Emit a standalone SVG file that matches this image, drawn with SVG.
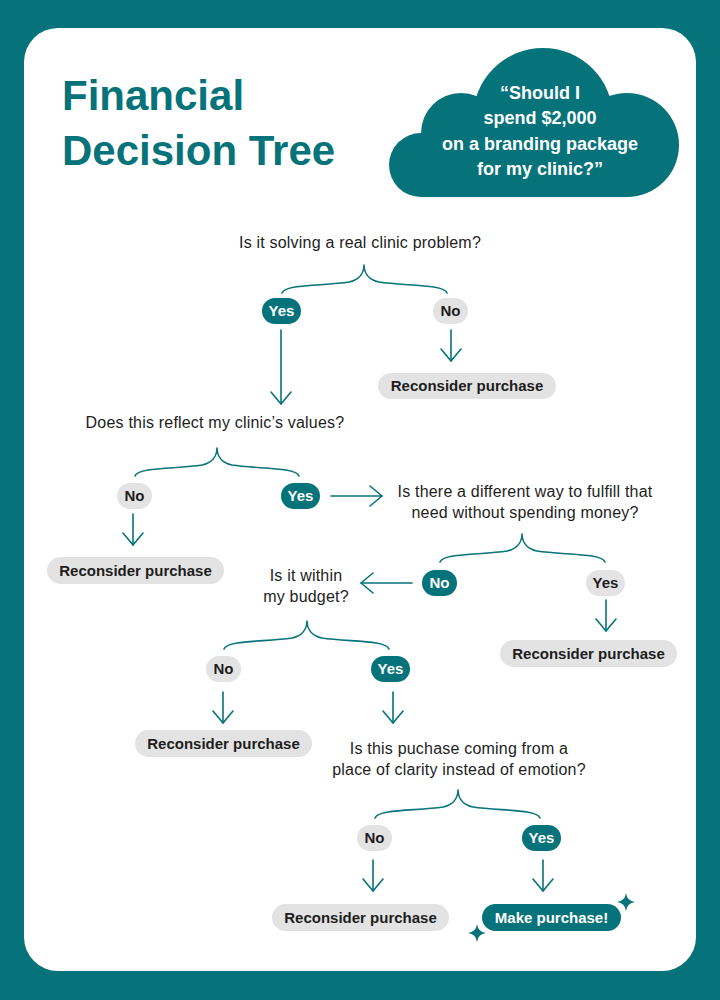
<svg xmlns="http://www.w3.org/2000/svg" width="720" height="1000" viewBox="0 0 720 1000">
<style>
.teal{fill:#06737a}
.grey{fill:#e3e3e3}
.q{font-family:"Liberation Sans",Arial,sans-serif;font-size:16px;fill:#1d1d1d;text-anchor:middle;letter-spacing:0.2px}
.pt{font-family:"Liberation Sans",Arial,sans-serif;font-size:15px;font-weight:700;text-anchor:middle}
.dk{fill:#1d1d1d}
.wt{fill:#ffffff}
.ln{fill:none;stroke:#06737a;stroke-width:1.6;stroke-linecap:round;stroke-linejoin:round}
.title{font-family:"Liberation Sans",Arial,sans-serif;font-size:42px;font-weight:700;fill:#06737a}
.cl{font-family:"Liberation Sans",Arial,sans-serif;font-size:18px;font-weight:700;fill:#ffffff;text-anchor:middle}
</style>
<defs>
<marker id="chev" viewBox="0 0 14 22" refX="13" refY="11" markerWidth="14" markerHeight="22" markerUnits="userSpaceOnUse" orient="auto">
<path d="M1,1 L13,11 L1,21" fill="none" stroke="#06737a" stroke-width="1.6" stroke-linecap="round" stroke-linejoin="round"/>
</marker>
</defs>
<rect width="720" height="1000" class="teal"/>
<rect x="24" y="28" width="672" height="943" rx="34" fill="#ffffff"/>

<g id="title">
<text class="title" x="62" y="110">Financial</text>
<text class="title" x="62" y="165">Decision Tree</text>
</g>

<g id="cloud">
<g class="teal">
<circle cx="421" cy="165" r="32"/>
<circle cx="461" cy="133" r="40"/>
<circle cx="543" cy="118" r="70"/>
<circle cx="627" cy="145" r="52"/>
<rect x="421" y="150" width="206" height="47"/>
</g>
<text class="cl" x="540" y="99">“Should I</text>
<text class="cl" x="540" y="124">spend $2,000</text>
<text class="cl" x="540" y="150">on a branding package</text>
<text class="cl" x="540" y="175">for my clinic?”</text>
</g>

<g id="connectors">
<path class="ln" d="M282 293 C285 284 324 286 349 282 C358 280 364 274 364 265 C364 274 370 280 379 282 C404 286 444 284 447 293"/>
<path class="ln" d="M135 476 C138 467 177 469 202 465 C211 463 217 457 217 448 C217 457 223 463 232 465 C257 469 296 467 299 476"/>
<path class="ln" d="M440 562 C443 553 482 555 507 551 C516 549 522 543 522 534 C522 543 528 549 537 551 C562 555 602 553 605 562"/>
<path class="ln" d="M224 649 C227 640 266 642 292 638 C301 636 307 630 307 621 C307 630 313 636 322 638 C348 642 386 640 389 649"/>
<path class="ln" d="M375 818 C378 809 417 811 443 807 C452 805 458 799 458 790 C458 799 464 805 473 807 C499 811 537 809 540 818"/>
<line class="ln" x1="281" y1="330" x2="281" y2="404" marker-end="url(#chev)"/>
<line class="ln" x1="451" y1="330" x2="451" y2="361" marker-end="url(#chev)"/>
<line class="ln" x1="331" y1="496" x2="382" y2="496" marker-end="url(#chev)"/>
<line class="ln" x1="133" y1="514" x2="133" y2="545" marker-end="url(#chev)"/>
<line class="ln" x1="412" y1="583" x2="361" y2="583" marker-end="url(#chev)"/>
<line class="ln" x1="606" y1="600" x2="606" y2="631" marker-end="url(#chev)"/>
<line class="ln" x1="223" y1="692" x2="223" y2="723" marker-end="url(#chev)"/>
<line class="ln" x1="393" y1="692" x2="393" y2="723" marker-end="url(#chev)"/>
<line class="ln" x1="373" y1="860" x2="373" y2="891" marker-end="url(#chev)"/>
<line class="ln" x1="543" y1="860" x2="543" y2="891" marker-end="url(#chev)"/>
</g>

<g id="q1"><text class="q" x="360" y="248">Is it solving a real clinic problem?</text></g>
<g id="yes1"><rect class="teal" x="262" y="298" width="39" height="26" rx="13"/><text class="pt wt" x="281.5" y="316">Yes</text></g>
<g id="no1"><rect class="grey" x="433" y="298" width="35" height="26" rx="13"/><text class="pt dk" x="450.5" y="316">No</text></g>
<g id="r1"><rect class="grey" x="378" y="373" width="178" height="26" rx="13"/><text class="pt dk" x="467" y="391">Reconsider purchase</text></g>

<g id="q2"><text class="q" x="215" y="428">Does this reflect my clinic’s values?</text></g>
<g id="no2"><rect class="grey" x="117" y="483" width="35" height="26" rx="13"/><text class="pt dk" x="134.5" y="501">No</text></g>
<g id="yes2"><rect class="teal" x="281" y="483" width="39" height="26" rx="13"/><text class="pt wt" x="300.5" y="501">Yes</text></g>
<g id="r2"><rect class="grey" x="47" y="557" width="177" height="27" rx="13.5"/><text class="pt dk" x="135.5" y="575.5">Reconsider purchase</text></g>

<g id="q3"><text class="q" x="525" y="497">Is there a different way to fulfill that</text><text class="q" x="525" y="518">need without spending money?</text></g>
<g id="no3"><rect class="teal" x="422" y="570" width="35" height="26" rx="13"/><text class="pt wt" x="439.5" y="588">No</text></g>
<g id="yes3"><rect class="grey" x="586" y="570" width="39" height="26" rx="13"/><text class="pt dk" x="605.5" y="588">Yes</text></g>
<g id="r3"><rect class="grey" x="500" y="640" width="177" height="27" rx="13.5"/><text class="pt dk" x="588.5" y="658.5">Reconsider purchase</text></g>

<g id="q4"><text class="q" x="306" y="581">Is it within</text><text class="q" x="306" y="602">my budget?</text></g>
<g id="no4"><rect class="grey" x="206" y="656" width="35" height="26" rx="13"/><text class="pt dk" x="223.5" y="674">No</text></g>
<g id="yes4"><rect class="teal" x="371" y="656" width="39" height="26" rx="13"/><text class="pt wt" x="390.5" y="674">Yes</text></g>
<g id="r4"><rect class="grey" x="135" y="730" width="177" height="27" rx="13.5"/><text class="pt dk" x="223.5" y="748.5">Reconsider purchase</text></g>

<g id="q5"><text class="q" x="459" y="754">Is this puchase coming from a</text><text class="q" x="459" y="775">place of clarity instead of emotion?</text></g>
<g id="no5"><rect class="grey" x="357" y="825" width="35" height="26" rx="13"/><text class="pt dk" x="374.5" y="843">No</text></g>
<g id="yes5"><rect class="teal" x="522" y="825" width="39" height="26" rx="13"/><text class="pt wt" x="541.5" y="843">Yes</text></g>
<g id="r5"><rect class="grey" x="272" y="904" width="177" height="27" rx="13.5"/><text class="pt dk" x="360.5" y="922.5">Reconsider purchase</text></g>
<g id="make"><rect class="teal" x="482" y="904" width="139" height="27" rx="13.5"/><text class="pt wt" x="551.5" y="922.5">Make purchase!</text></g>

<g id="sparkles" class="teal">
<path d="M626 893 Q627 901 635 902 Q627 903 626 911 Q625 903 617 902 Q625 901 626 893 Z"/>
<path d="M477 924 Q478 932 486 933 Q478 934 477 942 Q476 934 468 933 Q476 932 477 924 Z"/>
</g>
</svg>
